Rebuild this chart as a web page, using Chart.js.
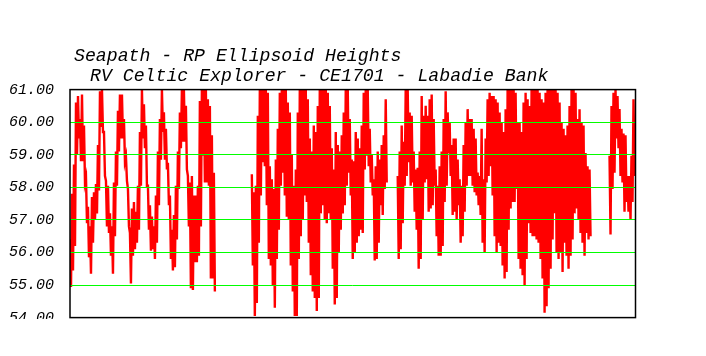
<!DOCTYPE html>
<html>
<head>
<meta charset="utf-8">
<script src="https://cdn.jsdelivr.net/npm/chart.js@4/dist/chart.umd.min.js"></script>
<style>
  html, body { margin: 0; padding: 0; background: #ffffff; }
  canvas { display: block; }
</style>
</head>
<body>
<canvas id="c" width="706" height="319"></canvas>
<script>
// Title lines
const titleLines = ["Seapath - RP Ellipsoid Heights", "RV Celtic Explorer - CE1701 - Labadie Bank"];

// Y axis tick values (m)
const yTicks = [54, 55, 56, 57, 58, 59, 60, 61];

// Ellipsoid height envelope per time bin (max / min within bin, metres); null = no data
const heightMax = [
  56.4, 57.8, 58.7, 60.6, 60.8, 60.1, 60.85, 59.9, 58.3, 57.4, 56.8, 57.7, 57.85, 58.1, 59.3, 60.95, 61, 59.7, 58.2, 58.05,
  57.2, 56.8, 58.15, 59.1, 60.35, 60.85, 60.85, 60.1, 58.95, 57.95, 56.6, 57.35, 57.55, 57.25, 58.05, 59.7, 61, 60.55, 59.9, 58.05,
  57.45, 57.1, 56.8, 57.75, 59.1, 60.1, 61, 60.3, 59.8, 58.75, 57.75, 56.7, 57.15, 58.05, 59.1, 60.3, 61, 61, 60.5, 58.35,
  58.15, 58.35, 57.75, 57.75, 58.05, 60.65, 61, 61, 61, 60.7, 60.5,
  59.6, 58.45,
  null, null, null, null, null, null, null, null, null, null, null, null, null, null, null, null, null, null,
  58.4, 57.85, 58.05, 60.2, 61, 61, 61, 61, 60.9, 58.65, 58.25, 57.95, 58.85, 59.8, 60.9, 61, 61, 61, 60.6, 60.3,
  59.0, 58.05, 58.55, 60.3, 61, 61, 61, 61, 60.7, 59.5, 59.1, 59.9, 59.7, 60.5, 61, 61, 61, 61, 60.9, 60.5,
  59.2, 58.55, 59.7, 59.3, 59.1, 59.6, 60.3, 61, 61, 60.1,
  58.85, 58.8, 59.7, 59.5, 59.2, 59.9, 60.9, 61, 61, 59.8, 59.0, 58.25, 58.65, 59.1, 58.85, 59.3, 59.6, 60.7,
  null, null, null, null, null,
  58.35, 59.1, 59.9, 59.4, 61, 61, 60.3, 60.2, 59.1, 58.55, 58.6, 59.1, 60.8, 60.2, 60.5, 60.2, 60.7, 60.85, 60.1, 58.55,
  58.05, 58.65, 59.1, 60.1, 60.95, 60.3, 60.0, 59.3, 59.5, 59.5, 58.85, 58.25, 58.05, 59.3, 60.0, 60.4, 60.1, 60.1, 59.8, 59.5,
  58.45, 58.35, 59.8, 58.25, 59.5, 60.7, 60.9, 60.8,
  60.8, 60.7, 60.6, 60.3, 60.0, 59.7, 60.4, 61, 61, 61, 61, 60.9, 60.0, 60.0, 59.7, 60.6, 60.9, 60.7, 60.5, 61,
  61, 61, 61, 60.9, 60.7, 60.6, 60.9, 61, 61, 61, 61, 61, 60.9, 60.6, 60.0, 59.8, 59.6, 59.9, 60.5, 61,
  61, 60.9, 60.1, 60.4, 60.0, 59.9, 59.05, 58.65, 58.55,
  null, null, null, null, null, null, null, null, null,
  58.97, 60.5, 60.9, 61, 60.8, 60.4, 59.8, 59.65, 59.6, 58.35, 58.35, 58.97, 60.7
];

const heightMin = [
  54.94, 55.45, 56.2, 59.0, 59.5, 58.8, 58.8, 58.15, 56.9, 55.85, 55.35, 56.3, 57.0, 57.2, 57.9, 59.85, 59.7, 58.35, 56.8, 56.6,
  55.9, 55.35, 56.5, 58.05, 59.1, 59.5, 59.5, 58.8, 58.2, 56.8, 55.05, 55.9, 56.1, 56.3, 56.7, 58.05, 59.5, 59.2, 58.05, 56.7,
  56.05, 56.1, 55.8, 56.3, 57.45, 58.85, 59.7, 58.85, 58.55, 57.45, 55.8, 55.45, 55.55, 56.4, 57.95, 59.2, 59.4, 59.4, 58.55, 56.8,
  54.9, 54.85, 55.7, 55.7, 55.9, 56.8, 58.97, 58.15, 58.15, 58.05, 55.2,
  55.2, 54.8,
  null, null, null, null, null, null, null, null, null, null, null, null, null, null, null, null, null, null,
  55.6, 54.05, 54.45, 56.3, 57.75, 58.77, 58.65, 57.45, 55.8, 55.6, 55.0, 54.3, 55.8, 56.7, 58.05, 58.45, 57.75, 57.1, 57.0, 55.6,
  54.8, 54.05, 54.05, 55.8, 56.5, 57.0, 57.75, 57.55, 56.3, 55.3, 54.8, 54.6, 54.2, 54.6, 57.2, 57.45, 57.0, 56.9, 57.2, 57.0,
  55.5, 54.4, 54.6, 56.0, 56.7, 57.2, 57.45, 58.05, 58.45, 57.75,
  55.8, 56.0, 56.3, 56.5, 56.7, 56.6, 58.55, 58.97, 58.65, 58.15, 57.75, 55.75, 55.8, 56.3, 57.45, 57.15, 57.95, 58.15,
  null, null, null, null, null,
  55.8, 56.1, 56.9, 58.05, 58.35, 58.77, 58.05, 58.15, 57.25, 56.7, 55.5, 55.8, 57.0, 58.15, 58.25, 57.25, 57.35, 57.45, 58.05, 56.5,
  55.9, 55.9, 56.2, 57.55, 58.05, 59.05, 58.35, 57.15, 57.25, 57.0, 57.45, 56.3, 56.5, 57.25, 58.05, 58.35, 58.35, 58.05, 57.85, 57.75,
  57.45, 57.15, 56.3, 56.0, 58.15, 58.35, 58.65, 57.75,
  56.5, 56.0, 56.3, 56.2, 55.6, 55.2, 55.4, 56.7, 57.35, 57.55, 57.55, 57.95, 55.8, 55.5, 55.3, 55.0, 55.8, 56.9, 56.6, 56.5,
  56.5, 56.4, 56.3, 55.8, 55.2, 54.15, 54.35, 54.9, 55.5, 56.4, 57.2, 56.0, 55.8, 56.0, 55.4, 56.3, 55.9, 55.5, 55.9, 56.4,
  57.2, 57.35, 57.0, 56.6, 56.3, 55.9, 56.6, 56.4, 56.5,
  null, null, null, null, null, null, null, null, null,
  56.55, 57.95, 58.45, 59.5, 59.2, 58.35, 58.15, 57.25, 57.55, 57.25, 57.0, 57.55, 58.35
];

// Build zig-zag trace (max then min inside each time bin)
const points = [];
for (let i = 0; i < heightMax.length; i++) {
  points.push({ x: i, y: heightMax[i] });
  points.push({ x: i + 0.5, y: heightMin[i] });
}

const frameAndTitle = {
  id: 'frameAndTitle',
  afterDraw(chart) {
    const { ctx, chartArea: a } = chart;
    ctx.save();
    ctx.strokeStyle = '#000000';
    ctx.lineWidth = 1.5;
    ctx.strokeRect(a.left, a.top, a.right - a.left, a.bottom - a.top);
    ctx.fillStyle = '#000000';
    ctx.font = 'italic 18.2px "Liberation Mono"';
    ctx.textBaseline = 'alphabetic';
    ctx.textAlign = 'left';
    ctx.fillText(titleLines[0], a.left + 4, 61);
    ctx.fillText(titleLines[1], a.left + 20, 81);
    ctx.restore();
  }
};

new Chart(document.getElementById('c'), {
  type: 'line',
  data: {
    datasets: [{
      data: points,
      borderColor: '#ff0000',
      borderWidth: 2.4,
      pointRadius: 0,
      tension: 0,
      fill: false,
      spanGaps: false
    }]
  },
  options: {
    responsive: false,
    animation: false,
    events: [],
    layout: { padding: { top: 89.6, right: 70.5, bottom: 1.4, left: 0 } },
    plugins: { legend: { display: false }, tooltip: { enabled: false }, title: { display: false } },
    scales: {
      x: { type: 'linear', display: false, min: 0, max: heightMax.length },
      y: {
        type: 'linear',
        min: yTicks[0],
        max: yTicks[yTicks.length - 1],
        afterBuildTicks(s) { s.ticks = yTicks.map(v => ({ value: v })); },
        afterFit(s) { s.width = 70; s.paddingTop = 0; s.paddingBottom = 0; },
        border: { display: false },
        grid: {
          z: 1,
          drawTicks: false,
          lineWidth: 1,
          color: (c) => (c.tick && (c.tick.value === 54 || c.tick.value === 61)) ? 'rgba(0,0,0,0)' : '#00ff00'
        },
        ticks: {
          padding: 16,
          color: '#000000',
          font: { family: 'Liberation Mono', size: 15, style: 'italic' },
          callback: (v) => Number(v).toFixed(2)
        }
      }
    }
  },
  plugins: [frameAndTitle]
});
</script>
</body>
</html>
